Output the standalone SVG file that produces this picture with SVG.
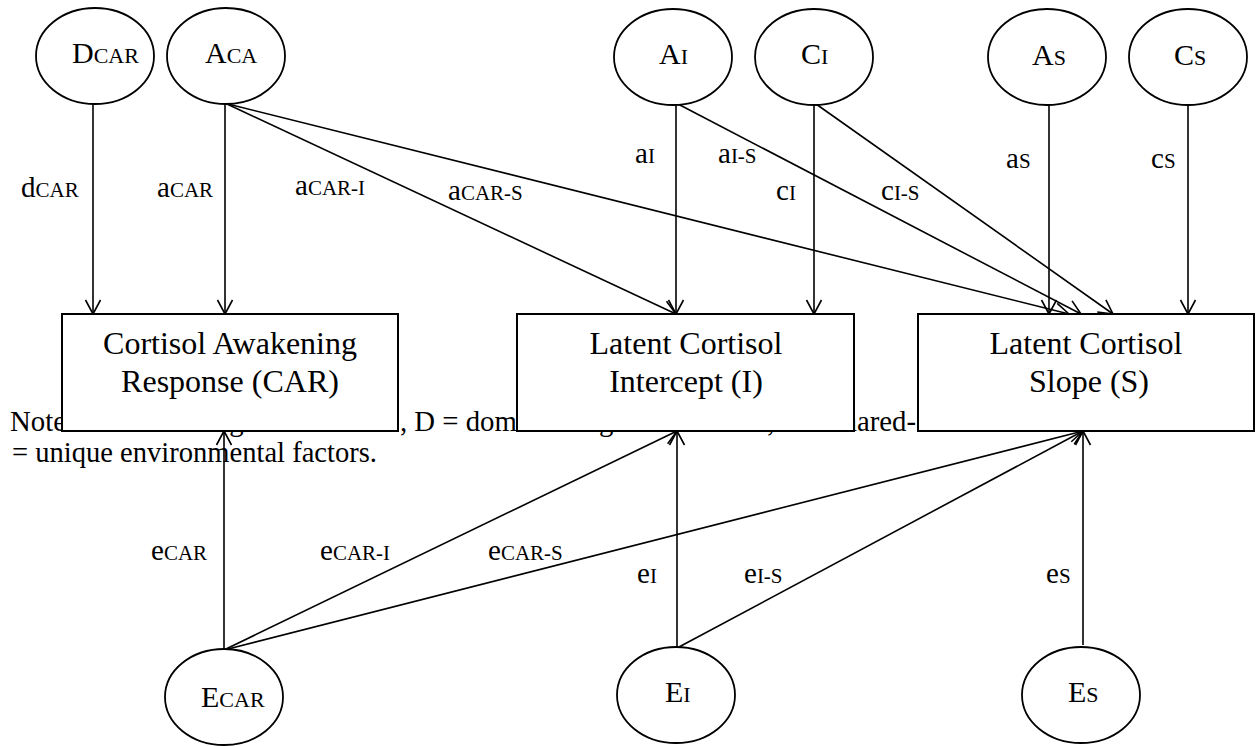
<svg xmlns="http://www.w3.org/2000/svg" width="1256" height="746" viewBox="0 0 1256 746">
<defs>
<style>
text{font-family:"Liberation Serif","Times New Roman",serif;fill:#000}
.lbl{font-size:29px}
.sub{font-size:21px}
.nl{font-size:30px}
.nsub{font-size:22px}
.note{font-size:28.5px}
.bt{font-size:32px;text-anchor:middle}
.node ellipse{fill:#fff;stroke:#000;stroke-width:1.8}
.node rect{fill:#fff;stroke:#000;stroke-width:2}
#connectors line{stroke:#000;stroke-width:1.6;fill:none}
</style>
<marker id="arr" markerUnits="userSpaceOnUse" markerWidth="18" markerHeight="18" viewBox="0 0 18 18" refX="16" refY="9" orient="auto">
<path d="M2,1.5 L16,9 L2,16.5" fill="none" stroke="#000" stroke-width="1.6"/>
</marker>
</defs>
<rect width="1256" height="746" fill="#fff"/>

<g id="note">
<text class="note" x="10" y="431" textLength="388" lengthAdjust="spacingAndGlyphs">Note: A = additive genetic factors</text>
<text class="note" x="400" y="431" textLength="516" lengthAdjust="spacingAndGlyphs">, D = dominance genetic factors, C = shared-</text>
<text class="note" x="12" y="462" textLength="365" lengthAdjust="spacingAndGlyphs">= unique environmental factors.</text>
</g>

<g id="connectors">
<line x1="93" y1="104" x2="93" y2="314" marker-end="url(#arr)"/>
<line x1="225" y1="104" x2="225" y2="314" marker-end="url(#arr)"/>
<line x1="227" y1="104" x2="676" y2="314" marker-end="url(#arr)"/>
<line x1="228" y1="104" x2="1069" y2="314" marker-end="url(#arr)"/>
<line x1="676" y1="104" x2="676" y2="314" marker-end="url(#arr)"/>
<line x1="678" y1="104" x2="1081" y2="314" marker-end="url(#arr)"/>
<line x1="814" y1="104" x2="814" y2="314" marker-end="url(#arr)"/>
<line x1="816" y1="104" x2="1113" y2="314" marker-end="url(#arr)"/>
<line x1="1049" y1="104" x2="1049" y2="314" marker-end="url(#arr)"/>
<line x1="1188" y1="104" x2="1188" y2="314" marker-end="url(#arr)"/>
<line x1="224" y1="649" x2="224" y2="431" marker-end="url(#arr)"/>
<line x1="226" y1="649" x2="677" y2="431" marker-end="url(#arr)"/>
<line x1="228" y1="649" x2="1083" y2="431" marker-end="url(#arr)"/>
<line x1="677" y1="647" x2="677" y2="431" marker-end="url(#arr)"/>
<line x1="679" y1="647" x2="1083" y2="431" marker-end="url(#arr)"/>
<line x1="1083" y1="645" x2="1083" y2="431" marker-end="url(#arr)"/>
</g>

<g id="edge-labels">
<text class="lbl" x="21" y="197">d<tspan class="sub">CAR</tspan></text>
<text class="lbl" x="157" y="197">a<tspan class="sub">CAR</tspan></text>
<text class="lbl" x="295" y="195">a<tspan class="sub">CAR-I</tspan></text>
<text class="lbl" x="448" y="200">a<tspan class="sub">CAR-S</tspan></text>
<text class="lbl" x="635" y="163">a<tspan class="sub">I</tspan></text>
<text class="lbl" x="718" y="163">a<tspan class="sub">I-S</tspan></text>
<text class="lbl" x="776" y="200">c<tspan class="sub">I</tspan></text>
<text class="lbl" x="881" y="200">c<tspan class="sub">I-S</tspan></text>
<text class="lbl" x="1006" y="168">a<tspan class="sub">S</tspan></text>
<text class="lbl" x="1151" y="168">c<tspan class="sub">S</tspan></text>
<text class="lbl" x="151" y="560">e<tspan class="sub">CAR</tspan></text>
<text class="lbl" x="320" y="560">e<tspan class="sub">CAR-I</tspan></text>
<text class="lbl" x="488" y="560">e<tspan class="sub">CAR-S</tspan></text>
<text class="lbl" x="637" y="583">e<tspan class="sub">I</tspan></text>
<text class="lbl" x="744" y="583">e<tspan class="sub">I-S</tspan></text>
<text class="lbl" x="1046" y="583">e<tspan class="sub">S</tspan></text>
</g>

<g id="node-DCAR" class="node"><ellipse cx="95" cy="56" rx="59" ry="48"/><text class="nl" x="72" y="63">D<tspan class="nsub">CAR</tspan></text></g>
<g id="node-ACA" class="node"><ellipse cx="226" cy="56" rx="59" ry="48"/><text class="nl" x="205" y="63">A<tspan class="nsub">CA</tspan></text></g>
<g id="node-AI" class="node"><ellipse cx="673" cy="57" rx="59" ry="48"/><text class="nl" x="659" y="64">A<tspan class="nsub">I</tspan></text></g>
<g id="node-CI" class="node"><ellipse cx="814" cy="57" rx="59" ry="48"/><text class="nl" x="801" y="64">C<tspan class="nsub">I</tspan></text></g>
<g id="node-AS" class="node"><ellipse cx="1047" cy="57" rx="59" ry="48"/><text class="nl" x="1032" y="65">A<tspan class="nsub">S</tspan></text></g>
<g id="node-CS" class="node"><ellipse cx="1188" cy="57" rx="59" ry="48"/><text class="nl" x="1174" y="65">C<tspan class="nsub">S</tspan></text></g>

<g id="node-CAR" class="node"><rect x="62" y="314" width="336" height="117"/><text class="bt" x="230" y="354">Cortisol Awakening</text><text class="bt" x="230" y="392">Response (CAR)</text></g>
<g id="node-I" class="node"><rect x="517" y="314" width="337" height="117"/><text class="bt" x="686" y="354">Latent Cortisol</text><text class="bt" x="686" y="392">Intercept (I)</text></g>
<g id="node-S" class="node"><rect x="918" y="314" width="336" height="117"/><text class="bt" x="1086" y="354">Latent Cortisol</text><text class="bt" x="1089" y="392">Slope (S)</text></g>

<g id="node-ECAR" class="node"><ellipse cx="224" cy="697" rx="59" ry="48"/><text class="nl" x="201" y="707">E<tspan class="nsub">CAR</tspan></text></g>
<g id="node-EI" class="node"><ellipse cx="676" cy="695" rx="59" ry="48"/><text class="nl" x="665" y="702">E<tspan class="nsub">I</tspan></text></g>
<g id="node-ES" class="node"><ellipse cx="1081" cy="695" rx="59" ry="48"/><text class="nl" x="1068" y="702">E<tspan class="nsub">S</tspan></text></g>
</svg>
